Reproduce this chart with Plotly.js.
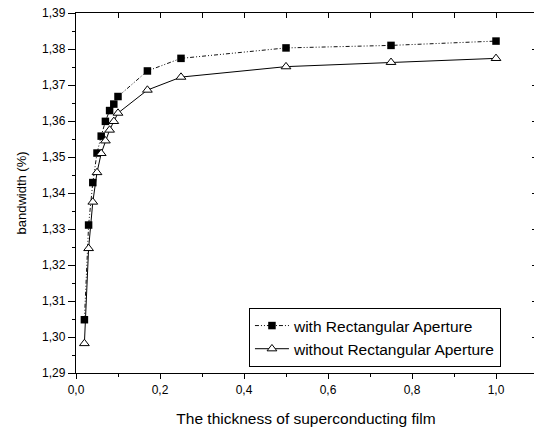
<!DOCTYPE html>
<html>
<head>
<meta charset="utf-8">
<script src="https://cdn.plot.ly/plotly-3.0.1.min.js"></script>
<style>
html, body { margin: 0; padding: 0; overflow: hidden; background: #fff; }
#chart { width: 537px; height: 427px; }
</style>
</head>
<body>
<div id="chart"></div>
<script>
// Data
const thickness = [0.02, 0.03, 0.04, 0.05, 0.06, 0.07, 0.08, 0.09, 0.10, 0.17, 0.25, 0.50, 0.75, 1.00];
const withAperture = [1.3048, 1.3311, 1.3429, 1.3511, 1.3558, 1.3599, 1.3629, 1.3647, 1.3668, 1.3739, 1.3774, 1.3803, 1.3810, 1.3822];
const withoutAperture = [1.2982, 1.3246, 1.3375, 1.3457, 1.3510, 1.3545, 1.3575, 1.3599, 1.3622, 1.3686, 1.3722, 1.3751, 1.3763, 1.3774];
const seriesNames = ["with Rectangular Aperture", "without Rectangular Aperture"];
const xTitle = "The thickness of superconducting film";
const yTitle = "bandwidth (%)";

const FONT = "Liberation Sans, Arial, Helvetica, sans-serif";
const xRange = [0, 1.0952];
const yRange = [1.29, 1.39];

const traces = [
  {
    x: thickness, y: withAperture, name: seriesNames[0],
    type: "scatter", mode: "lines+markers",
    line: { color: "#111", width: 1, dash: "4px,2px,1px,2px,1px,2px" },
    marker: { symbol: "square", size: 7.5, color: "#000", line: { width: 0 } },
    xaxis: "x", yaxis: "y"
  },
  {
    x: thickness, y: withoutAperture, name: seriesNames[1],
    type: "scatter", mode: "lines+markers",
    line: { color: "#000", width: 1 },
    marker: { symbol: "triangle-up", size: 8.5, color: "#fff", line: { color: "#000", width: 1 } },
    xaxis: "x", yaxis: "y"
  },
  {
    x: thickness, y: withAperture, type: "scatter", mode: "lines",
    line: { width: 0 }, opacity: 0, showlegend: false, hoverinfo: "skip",
    xaxis: "x2", yaxis: "y2"
  }
];

const layout = {
  width: 537, height: 427,
  margin: { l: 76, r: 1, t: 13, b: 54 },
  paper_bgcolor: "#fff", plot_bgcolor: "#fff",
  separators: ",.",
  font: { family: FONT, color: "#000", size: 12 },
  showlegend: true,
  legend: {
    x: 0.376, y: 0.1806, xanchor: "left", yanchor: "top",
    bordercolor: "#000", borderwidth: 1, bgcolor: "#fff",
    font: { family: FONT, size: 15.5, color: "#000" },
    traceorder: "normal", itemwidth: 34
  },
  xaxis: {
    range: xRange, showgrid: false, zeroline: false,
    showline: true, linecolor: "#000", linewidth: 1.2,
    ticks: "outside", ticklen: 5, tickwidth: 1, tickcolor: "#000",
    dtick: 0.2, tick0: 0, tickformat: ".1f",
    minor: { dtick: 0.1, tick0: 0, ticks: "outside", ticklen: 3, tickwidth: 1, tickcolor: "#000" },
    tickfont: { family: FONT, size: 12 },
    title: { text: xTitle, font: { family: FONT, size: 15.5 }, standoff: 17 },
    fixedrange: true
  },
  xaxis2: {
    range: xRange, overlaying: "x", side: "top", anchor: "y",
    showgrid: false, zeroline: false, showticklabels: false,
    showline: true, linecolor: "#000", linewidth: 1.2,
    ticks: "inside", ticklen: 5, tickwidth: 1, tickcolor: "#000",
    dtick: 0.1, tick0: 0, fixedrange: true
  },
  yaxis: {
    range: yRange, showgrid: false, zeroline: false,
    showline: true, linecolor: "#000", linewidth: 1.2,
    ticks: "outside", ticklen: 7, tickwidth: 1, tickcolor: "#000",
    dtick: 0.01, tick0: 1.29, tickformat: ".2f",
    minor: { dtick: 0.005, tick0: 1.29, ticks: "outside", ticklen: 3, tickwidth: 1, tickcolor: "#000" },
    tickfont: { family: FONT, size: 12 },
    title: { text: yTitle, font: { family: FONT, size: 13 }, standoff: 12 },
    fixedrange: true
  },
  yaxis2: {
    range: yRange, overlaying: "y", side: "right", anchor: "x",
    showgrid: false, zeroline: false, showticklabels: false,
    showline: true, linecolor: "#000", linewidth: 1.2,
    ticks: "inside", ticklen: 4, tickwidth: 1, tickcolor: "#000",
    dtick: 0.01, tick0: 1.29, fixedrange: true
  }
};

Plotly.newPlot("chart", traces, layout, { displayModeBar: false, staticPlot: true });
</script>
</body>
</html>
